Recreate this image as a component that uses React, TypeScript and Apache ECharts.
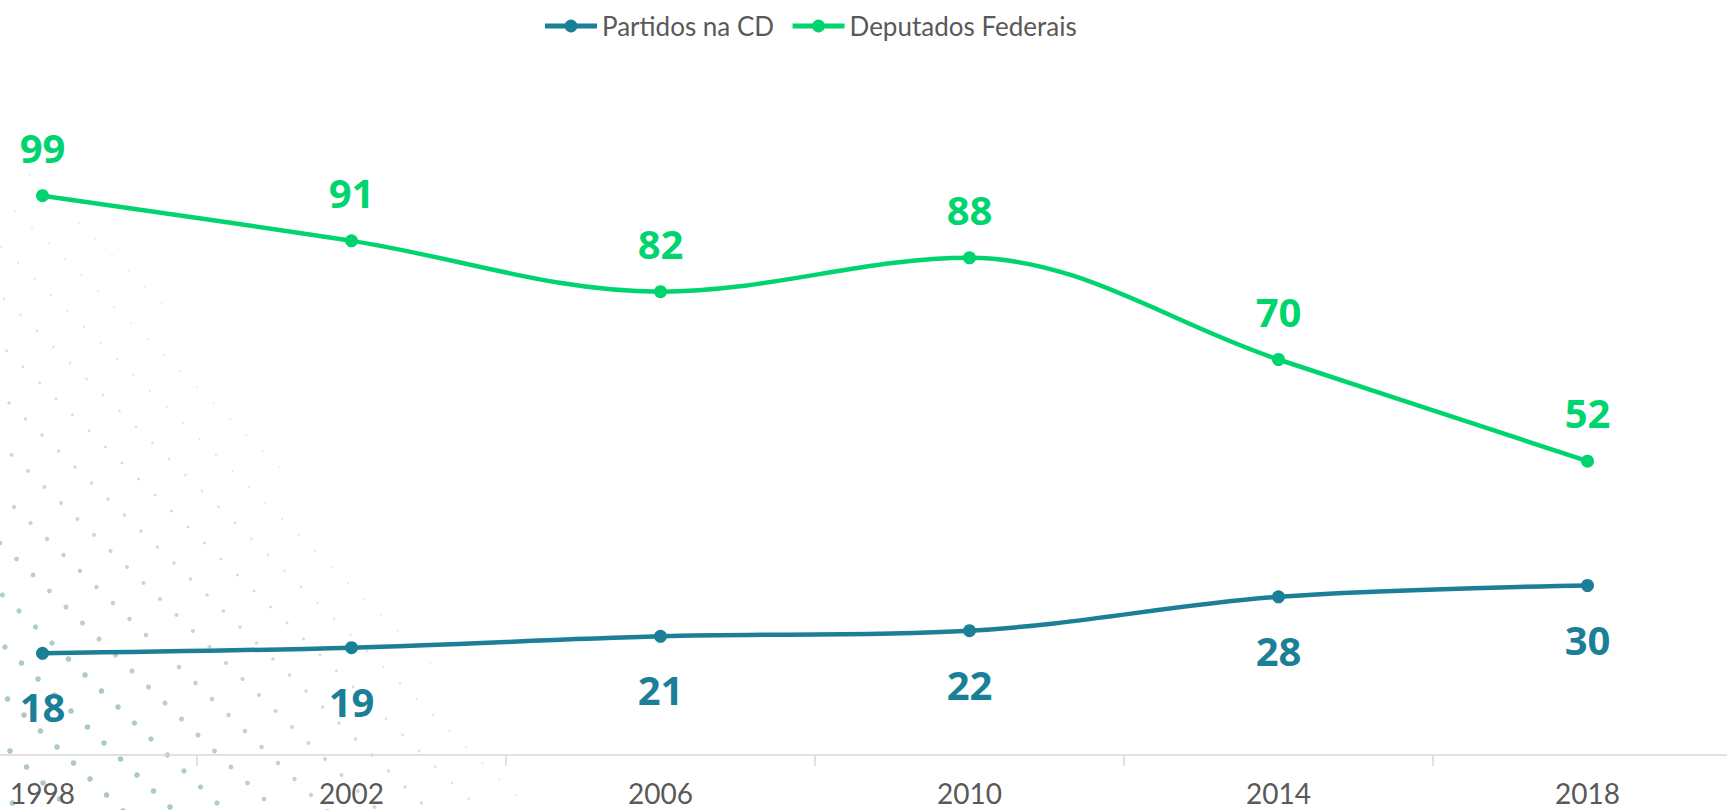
import React, { useEffect, useRef } from "react";
import * as echarts from "echarts";

const years = ["1998", "2002", "2006", "2010", "2014", "2018"];
const partidosNaCD = [18, 19, 21, 22, 28, 30];
const deputadosFederais = [99, 91, 82, 88, 70, 52];
const seriesNames = ["Partidos na CD", "Deputados Federais"];

const BLUE = "#1B7F97";
const GREEN = "#00D46E";

// chart canvas extends beyond the visible page (the reference is a crop)
const OFF_LEFT = 112.5;
const OFF_RIGHT = 14.5;
const W = 1727 + OFF_LEFT + OFF_RIGHT;

function dotPattern() {
  const out: any[] = [];
  const ux = 16.5, uy = 16, vx = 47, vy = -4;
  for (let i = -90; i < 90; i++) {
    for (let j = -50; j < 50; j++) {
      const x = i * ux + j * vx + 5;
      const y = i * uy + j * vy + 3;
      if (x < -3 || y > 814 || y < 160) continue;
      const f = 0.75 * (y - 85) - x;
      if (f < 0) continue;
      const t = Math.pow(Math.min(1, f / 360), 0.8);
      const h = Math.max(0, Math.min(1, (y - 160) / 520));
      const k = t * (0.3 + 0.7 * h);
      out.push({
        type: "circle",
        silent: true,
        z: 0,
        shape: { cx: x + OFF_LEFT, cy: y, r: 0.8 + 2.0 * k },
        style: { fill: "#8db6a6", opacity: 0.22 + 0.5 * k },
      });
    }
  }
  return out;
}

export default function App() {
  const ref = useRef<HTMLDivElement>(null);
  useEffect(() => {
    if (!ref.current) return;
    const chart = echarts.init(ref.current, undefined, { renderer: "svg" });
    chart.setOption({
      animation: false,
      backgroundColor: "#ffffff",
      graphic: { elements: dotPattern() },
      legend: {
        data: seriesNames,
        left: 537 + OFF_LEFT,
        top: 8,
        itemWidth: 52,
        itemHeight: 16,
        itemGap: 16,
        lineStyle: { width: 5 },
        textStyle: { fontFamily: "Lato", fontSize: 26, color: "#595959" },
      },
      grid: { left: 0, right: 0, top: 77, bottom: 55 },
      xAxis: {
        type: "category",
        data: years,
        boundaryGap: true,
        axisLine: { lineStyle: { color: "#D9D9D9", width: 1.5 } },
        axisTick: { show: true, length: 11, lineStyle: { color: "#D9D9D9", width: 1.5 } },
        axisLabel: { fontFamily: "Lato", fontSize: 28, lineHeight: 30, color: "#595959", margin: 23 },
      },
      yAxis: {
        type: "value",
        min: 0,
        max: 120,
        show: false,
        splitLine: { show: false },
      },
      series: [
        {
          name: seriesNames[0],
          type: "line",
          data: partidosNaCD,
          smooth: 0.35,
          symbol: "circle",
          symbolSize: 13,
          color: BLUE,
          lineStyle: { width: 4.5, color: BLUE },
          itemStyle: { color: BLUE },
          z: 3,
          label: {
            show: true,
            position: "bottom",
            distance: 27,
            fontFamily: "Open Sans",
            fontWeight: "bold",
            fontSize: 40,
            color: BLUE,
          },
        },
        {
          name: seriesNames[1],
          type: "line",
          data: deputadosFederais,
          smooth: 0.35,
          symbol: "circle",
          symbolSize: 13,
          color: GREEN,
          lineStyle: { width: 4.5, color: GREEN },
          itemStyle: { color: GREEN },
          z: 3,
          label: {
            show: true,
            position: "top",
            distance: 22,
            fontFamily: "Open Sans",
            fontWeight: "bold",
            fontSize: 40,
            color: GREEN,
          },
        },
      ],
    });
    return () => chart.dispose();
  }, []);
  return (
    <div
      style={{
        position: "fixed",
        left: 0,
        top: 0,
        width: 1727,
        height: 810,
        overflow: "hidden",
        background: "#ffffff",
      }}
    >
      <div
        ref={ref}
        style={{ position: "absolute", left: -OFF_LEFT, top: 0, width: W, height: 810 }}
      />
    </div>
  );
}
